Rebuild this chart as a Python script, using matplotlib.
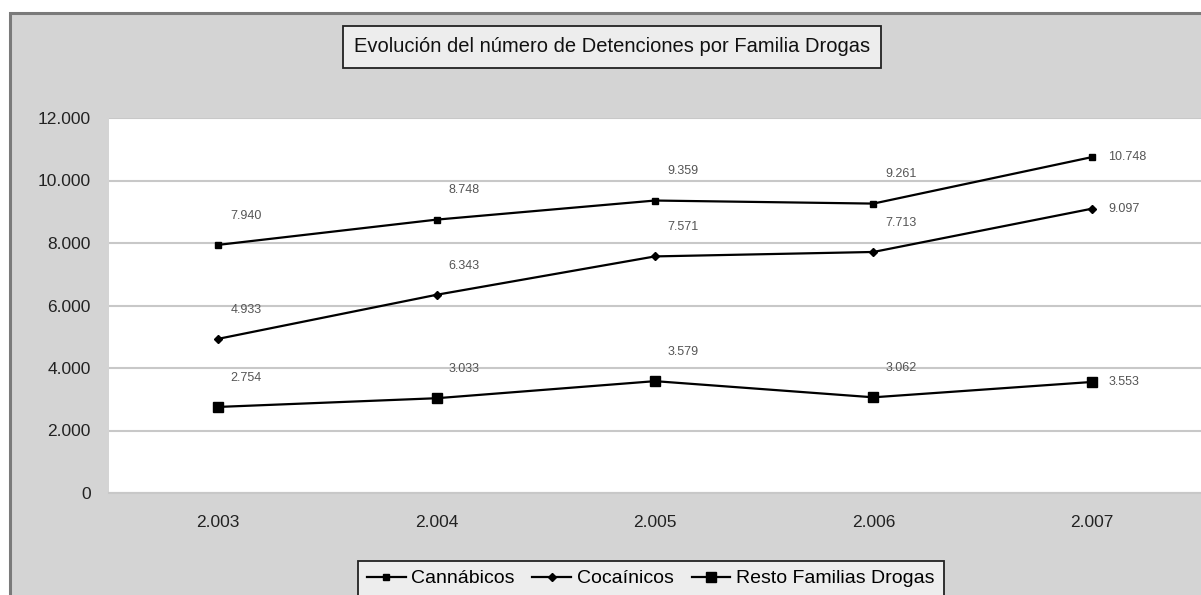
import matplotlib
matplotlib.use("Agg")
import matplotlib.pyplot as plt
from matplotlib.patches import Rectangle

plt.rcParams['font.family'] = ['Liberation Sans', 'DejaVu Sans']

years = ["2.003", "2.004", "2.005", "2.006", "2.007"]
cannabicos = [7940, 8748, 9359, 9261, 10748]
cocainicos = [4933, 6343, 7571, 7713, 9097]
resto = [2754, 3033, 3579, 3062, 3553]
series_names = ["Cannábicos", "Cocaínicos", "Resto Familias Drogas"]
yticks = [0, 2000, 4000, 6000, 8000, 10000, 12000]
ytick_labels = ["0", "2.000", "4.000", "6.000", "8.000", "10.000", "12.000"]
title = "Evolución del número de Detenciones por Familia Drogas"


def fmt(v):
    return f"{v:,}".replace(",", ".")


W, H = 1201, 595
fig = plt.figure(figsize=(W / 100, H / 100), dpi=100, facecolor='white')

# outer chart frame
frame = Rectangle((10 / W, -0.1), 1.2, (H - 13) / H + 0.1, transform=fig.transFigure,
                  facecolor='#d4d4d4', edgecolor='#7a7a7a', lw=2.2, zorder=-10)
fig.patches.append(frame)

ax = fig.add_axes([109 / W, (H - 493) / H, (W - 109) / W, (493 - 118) / H])
ax.set_zorder(1)
ax.set_facecolor('white')
x = list(range(len(years)))

styles = [
    dict(marker='s', ms=4.5),
    dict(marker='D', ms=4),
    dict(marker='s', ms=7),
]
data = [cannabicos, cocainicos, resto]
for vals, name, st in zip(data, series_names, styles):
    ax.plot(x, vals, color='black', lw=1.6, label=name, mfc='black', mec='black', zorder=3, **st)
    for i, v in enumerate(vals):
        if i == len(vals) - 1:
            ax.annotate(fmt(v), (i, v), xytext=(12, 0), textcoords='offset points',
                        ha='left', va='center', fontsize=9, color='#555555')
        else:
            ax.annotate(fmt(v), (i, v), xytext=(20, 21), textcoords='offset points',
                        ha='center', va='center', fontsize=9, color='#555555')

ax.set_xlim(-0.5, len(years) - 0.5)
ax.set_ylim(0, 12000)
ax.set_yticks(yticks)
ax.set_yticklabels(ytick_labels)
ax.set_xticks(x)
ax.set_xticklabels(years)
ax.tick_params(length=0, labelsize=12.5, colors='#222222')
ax.tick_params(axis='y', pad=13)
ax.tick_params(axis='x', pad=16)
ax.grid(axis='y', color='#c8c8c8', lw=1.5)
ax.set_axisbelow(True)
for s in ['top', 'right', 'left']:
    ax.spines[s].set_visible(False)
ax.spines['bottom'].set_color('#c8c8c8')
ax.spines['bottom'].set_linewidth(1.5)

fig.text(612 / W, (H - 47) / H, title, ha='center', va='center', fontsize=14.5, color='#111111',
         bbox=dict(boxstyle='square,pad=0.55', facecolor='#ededed', edgecolor='#222222', lw=1.3))

leg = fig.legend(loc='upper left', bbox_to_anchor=(358 / W, (H - 561) / H), ncol=3,
                 frameon=True, fancybox=False, borderaxespad=0, fontsize=14,
                 handlelength=2.0, handletextpad=0.3, columnspacing=0.9, borderpad=0.45)
leg.get_frame().set_facecolor('#ededed')
leg.get_frame().set_edgecolor('#222222')
leg.get_frame().set_linewidth(1.3)
leg.get_frame().set_alpha(1)

fig.savefig('out.png', dpi=100, facecolor=fig.get_facecolor())
